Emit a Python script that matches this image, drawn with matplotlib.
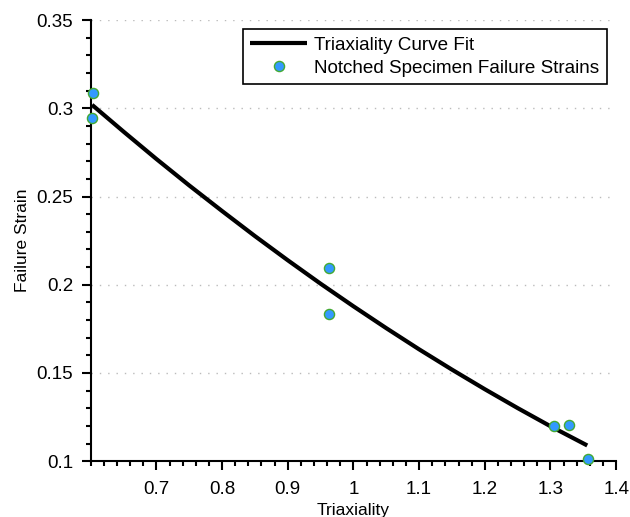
import matplotlib
matplotlib.use('Agg')
import matplotlib.pyplot as plt
from matplotlib.ticker import MultipleLocator, FuncFormatter

plt.rcParams['font.family'] = ['Liberation Sans', 'DejaVu Sans']

# fitted curve
fit_x = [0.602, 0.65, 0.70, 0.75, 0.80, 0.85, 0.90, 0.95, 1.00, 1.05, 1.10, 1.15, 1.20, 1.25, 1.30, 1.356]
fit_y = [0.3020, 0.2868, 0.2713, 0.2563, 0.2418, 0.2276, 0.2139, 0.2006, 0.1878,
         0.1754, 0.1634, 0.1519, 0.1408, 0.1301, 0.1198, 0.1089]

# notched specimen data
pts_x = [0.604, 0.6025, 0.963, 0.963, 1.305, 1.3285, 1.357]
pts_y = [0.3085, 0.2946, 0.2096, 0.1837, 0.1198, 0.1206, 0.1011]

fig = plt.figure(figsize=(6.3, 5.17), dpi=100)
ax = fig.add_axes([0.144, 0.108, 0.834, 0.853])

ax.plot(fit_x, fit_y, color='black', lw=3, label='Triaxiality Curve Fit', zorder=3,
        solid_capstyle='butt')
ax.plot(pts_x, pts_y, 'o', ms=7.3, mfc='#3399ff', mec='#44aa33', mew=1.0,
        label='Notched Specimen Failure Strains', zorder=4, clip_on=False)

ax.set_xlim(0.6, 1.4)
ax.set_ylim(0.1, 0.35)
ax.set_xticks([0.7, 0.8, 0.9, 1.0, 1.1, 1.2, 1.3, 1.4])
ax.xaxis.set_minor_locator(MultipleLocator(0.02))
ax.yaxis.set_major_locator(MultipleLocator(0.05))
ax.yaxis.set_minor_locator(MultipleLocator(0.01))
fmt = FuncFormatter(lambda v, p: '%g' % round(v, 3))
ax.xaxis.set_major_formatter(fmt)
ax.yaxis.set_major_formatter(fmt)

ax.tick_params(which='major', direction='out', length=6.5, width=1.5, labelsize=13.5)
ax.tick_params(axis='x', which='major', pad=7.5)
ax.tick_params(axis='y', which='major', pad=6)
ax.tick_params(which='minor', direction='out', length=3.5, width=1.5)
for s in ['top', 'right']:
    ax.spines[s].set_visible(False)
for s in ['left', 'bottom']:
    ax.spines[s].set_linewidth(1.5)

ax.yaxis.grid(True, linestyle=(0, (1, 5)), color='#bbbbbb', lw=1)
ax.set_axisbelow(True)

ax.set_xlabel('Triaxiality', fontsize=12.5, labelpad=4)
ax.set_ylabel('Failure Strain', fontsize=12.5, labelpad=5)

leg = ax.legend(loc='upper right', fontsize=13.6, frameon=True, fancybox=False,
                edgecolor='black', framealpha=1, borderpad=0.4, handlelength=3.0,
                handletextpad=0.4, borderaxespad=0.48, labelspacing=0.3)
leg.get_frame().set_linewidth(1.2)

fig.savefig('out.png', dpi=100)
